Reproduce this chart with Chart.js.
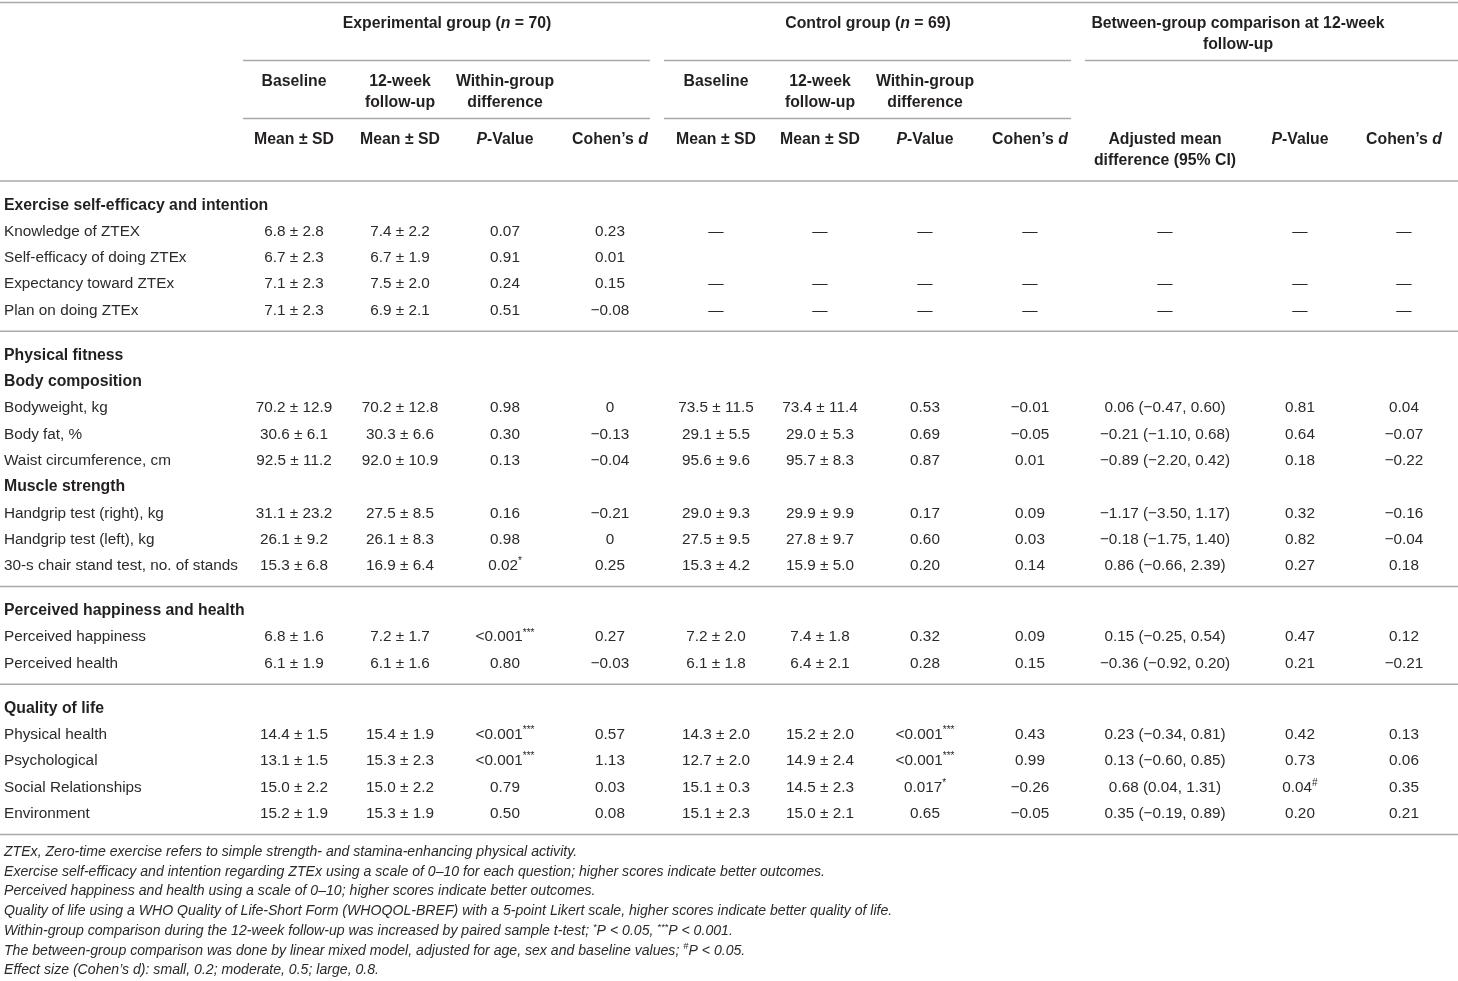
<!DOCTYPE html>
<html>
<head>
<meta charset="utf-8">
<script src="https://cdn.jsdelivr.net/npm/chart.js@4.4.1/dist/chart.umd.min.js"></script>
<style>
html, body { margin: 0; padding: 0; background: #fff; }
#wrap { width: 1458px; height: 981px; position: relative; }
</style>
</head>
<body>
<div id="wrap"><canvas id="tableChart"></canvas></div>
<script>
// markup: _x_ = italic, ^x^ = superscript, | = line break
const D = '—';

const groupHeaders = ['Experimental group (_n_ = 70)', 'Control group (_n_ = 69)', 'Between-group comparison at 12-week|follow-up'];
const subHeaders = ['Baseline', '12-week|follow-up', 'Within-group|difference', '', 'Baseline', '12-week|follow-up', 'Within-group|difference', '', '', '', ''];
const statHeaders = ['Mean ± SD', 'Mean ± SD', '_P_-Value', 'Cohen’s _d_', 'Mean ± SD', 'Mean ± SD', '_P_-Value', 'Cohen’s _d_', 'Adjusted mean|difference (95% CI)', '_P_-Value', 'Cohen’s _d_'];

const rowLabels = [
    'Exercise self-efficacy and intention', 'Knowledge of ZTEX', 'Self-efficacy of doing ZTEx', 'Expectancy toward ZTEx', 'Plan on doing ZTEx',
    'Physical fitness', 'Body composition', 'Bodyweight, kg', 'Body fat, %', 'Waist circumference, cm',
    'Muscle strength', 'Handgrip test (right), kg', 'Handgrip test (left), kg', '30-s chair stand test, no. of stands',
    'Perceived happiness and health', 'Perceived happiness', 'Perceived health',
    'Quality of life', 'Physical health', 'Psychological', 'Social Relationships', 'Environment'
];
const headerRows = [0, 5, 6, 10, 14, 17];
const sectionEnds = [4, 13, 16];

const expBaseline = ['', '6.8 ± 2.8', '6.7 ± 2.3', '7.1 ± 2.3', '7.1 ± 2.3', '', '', '70.2 ± 12.9', '30.6 ± 6.1', '92.5 ± 11.2', '', '31.1 ± 23.2', '26.1 ± 9.2', '15.3 ± 6.8', '', '6.8 ± 1.6', '6.1 ± 1.9', '', '14.4 ± 1.5', '13.1 ± 1.5', '15.0 ± 2.2', '15.2 ± 1.9'];
const expFollowUp = ['', '7.4 ± 2.2', '6.7 ± 1.9', '7.5 ± 2.0', '6.9 ± 2.1', '', '', '70.2 ± 12.8', '30.3 ± 6.6', '92.0 ± 10.9', '', '27.5 ± 8.5', '26.1 ± 8.3', '16.9 ± 6.4', '', '7.2 ± 1.7', '6.1 ± 1.6', '', '15.4 ± 1.9', '15.3 ± 2.3', '15.0 ± 2.2', '15.3 ± 1.9'];
const expP = ['', '0.07', '0.91', '0.24', '0.51', '', '', '0.98', '0.30', '0.13', '', '0.16', '0.98', '0.02^*^', '', '<0.001^***^', '0.80', '', '<0.001^***^', '<0.001^***^', '0.79', '0.50'];
const expD = ['', '0.23', '0.01', '0.15', '−0.08', '', '', '0', '−0.13', '−0.04', '', '−0.21', '0', '0.25', '', '0.27', '−0.03', '', '0.57', '1.13', '0.03', '0.08'];

const ctrlBaseline = ['', D, '', D, D, '', '', '73.5 ± 11.5', '29.1 ± 5.5', '95.6 ± 9.6', '', '29.0 ± 9.3', '27.5 ± 9.5', '15.3 ± 4.2', '', '7.2 ± 2.0', '6.1 ± 1.8', '', '14.3 ± 2.0', '12.7 ± 2.0', '15.1 ± 0.3', '15.1 ± 2.3'];
const ctrlFollowUp = ['', D, '', D, D, '', '', '73.4 ± 11.4', '29.0 ± 5.3', '95.7 ± 8.3', '', '29.9 ± 9.9', '27.8 ± 9.7', '15.9 ± 5.0', '', '7.4 ± 1.8', '6.4 ± 2.1', '', '15.2 ± 2.0', '14.9 ± 2.4', '14.5 ± 2.3', '15.0 ± 2.1'];
const ctrlP = ['', D, '', D, D, '', '', '0.53', '0.69', '0.87', '', '0.17', '0.60', '0.20', '', '0.32', '0.28', '', '<0.001^***^', '<0.001^***^', '0.017^*^', '0.65'];
const ctrlD = ['', D, '', D, D, '', '', '−0.01', '−0.05', '0.01', '', '0.09', '0.03', '0.14', '', '0.09', '0.15', '', '0.43', '0.99', '−0.26', '−0.05'];

const adjDiff = ['', D, '', D, D, '', '', '0.06 (−0.47, 0.60)', '−0.21 (−1.10, 0.68)', '−0.89 (−2.20, 0.42)', '', '−1.17 (−3.50, 1.17)', '−0.18 (−1.75, 1.40)', '0.86 (−0.66, 2.39)', '', '0.15 (−0.25, 0.54)', '−0.36 (−0.92, 0.20)', '', '0.23 (−0.34, 0.81)', '0.13 (−0.60, 0.85)', '0.68 (0.04, 1.31)', '0.35 (−0.19, 0.89)'];
const betweenP = ['', D, '', D, D, '', '', '0.81', '0.64', '0.18', '', '0.32', '0.82', '0.27', '', '0.47', '0.21', '', '0.42', '0.73', '0.04^#^', '0.20'];
const betweenD = ['', D, '', D, D, '', '', '0.04', '−0.07', '−0.22', '', '−0.16', '−0.04', '0.18', '', '0.12', '−0.21', '', '0.13', '0.06', '0.35', '0.21'];

const footnotes = [
    'ZTEx, Zero-time exercise refers to simple strength- and stamina-enhancing physical activity.',
    'Exercise self-efficacy and intention regarding ZTEx using a scale of 0–10 for each question; higher scores indicate better outcomes.',
    'Perceived happiness and health using a scale of 0–10; higher scores indicate better outcomes.',
    'Quality of life using a WHO Quality of Life-Short Form (WHOQOL-BREF) with a 5-point Likert scale, higher scores indicate better quality of life.',
    'Within-group comparison during the 12-week follow-up was increased by paired sample t-test; ^*^P < 0.05, ^***^P < 0.001.',
    'The between-group comparison was done by linear mixed model, adjusted for age, sex and baseline values; ^#^P < 0.05.',
    'Effect size (Cohen’s d): small, 0.2; moderate, 0.5; large, 0.8.'
];

const columns = [expBaseline, expFollowUp, expP, expD, ctrlBaseline, ctrlFollowUp, ctrlP, ctrlD, adjDiff, betweenP, betweenD];

// layout (scale units = px of the 1458 x 981 page)
const labelX = 4;
const colX = [294, 400, 505, 610, 716, 820, 925, 1030, 1165, 1300, 1404];
const groupX = [447, 868, 1238];
const firstRowY = 204, rowStep = 26.3, sectionGap = 18.7, lineStep = 21;
const footY = 851, footStep = 19.7;

const FAMILY = '"Liberation Sans", Arial, sans-serif';
const headFont = { size: 15.8, weight: 'bold', italic: false, family: FAMILY, color: '#231f20' };
const bodyFont = { size: 15.3, weight: 'normal', italic: false, family: FAMILY, color: '#2a2a2a' };
const footFont = { size: 14.1, weight: 'normal', italic: true, family: FAMILY, color: '#2a2a2a' };
const RULE = '#a9a9a9';

function rowY(i) {
    const gaps = sectionEnds.filter(e => e < i).length;
    return firstRowY + rowStep * i + sectionGap * gaps;
}

function parseRich(str) {
    const out = [];
    let it = false, sup = false, buf = '';
    for (const ch of str) {
        if (ch === '_' || ch === '^') {
            if (buf) out.push({ t: buf, it, sup });
            buf = '';
            if (ch === '_') it = !it; else sup = !sup;
        } else {
            buf += ch;
        }
    }
    if (buf) out.push({ t: buf, it, sup });
    return out;
}

function fontFor(base, seg) {
    const size = seg.sup ? base.size * 0.66 : base.size;
    const italic = base.italic !== seg.it;
    return (italic ? 'italic ' : '') + base.weight + ' ' + size + 'px ' + base.family;
}

function drawRich(ctx, str, x, yc, align, base) {
    const segs = parseRich(str);
    let w = 0;
    segs.forEach(s => { ctx.font = fontFor(base, s); s.w = ctx.measureText(s.t).width; w += s.w; });
    let cx = align === 'center' ? x - w / 2 : x;
    const base_y = yc + base.size * 0.36;
    ctx.fillStyle = base.color;
    ctx.textAlign = 'left';
    ctx.textBaseline = 'alphabetic';
    segs.forEach(s => {
        ctx.font = fontFor(base, s);
        ctx.fillText(s.t, cx, base_y - (s.sup ? base.size * 0.38 : 0));
        cx += s.w;
    });
}

function drawLines(ctx, str, x, yc, align, base) {
    str.split('|').forEach((part, k) => drawRich(ctx, part, x, yc + k * lineStep, align, base));
}

const tablePlugin = {
    id: 'tablePlugin',
    afterDraw(chart) {
        const ctx = chart.ctx;
        const sx = chart.scales.x, sy = chart.scales.y;
        const X = v => sx.getPixelForValue(v);
        const Y = v => sy.getPixelForValue(v);
        ctx.save();

        // rules
        ctx.strokeStyle = RULE;
        ctx.lineWidth = 1.5;
        const rule = (x0, x1, y) => { ctx.beginPath(); ctx.moveTo(X(x0), Y(y)); ctx.lineTo(X(x1), Y(y)); ctx.stroke(); };
        rule(0, 1458, 2.5);
        rule(243, 650, 60.5); rule(664, 1071, 60.5); rule(1085, 1458, 60.5);
        rule(243, 650, 118.5); rule(664, 1071, 118.5);
        rule(0, 1458, 181);
        sectionEnds.forEach(e => rule(0, 1458, rowY(e) + 22));
        rule(0, 1458, rowY(rowLabels.length - 1) + 22);

        // header
        groupHeaders.forEach((h, g) => drawLines(ctx, h, X(groupX[g]), Y(22), 'center', headFont));
        subHeaders.forEach((h, c) => { if (h) drawLines(ctx, h, X(colX[c]), Y(80), 'center', headFont); });
        statHeaders.forEach((h, c) => drawLines(ctx, h, X(colX[c]), Y(138), 'center', headFont));

        // body
        rowLabels.forEach((label, i) => {
            const y = Y(rowY(i));
            const isHead = headerRows.includes(i);
            drawRich(ctx, label, X(labelX), y, 'left', isHead ? headFont : bodyFont);
            columns.forEach((col, c) => { if (col[i]) drawRich(ctx, col[i], X(colX[c]), y, 'center', bodyFont); });
        });

        // footnotes
        footnotes.forEach((f, k) => drawRich(ctx, f, X(labelX), Y(footY + k * footStep), 'left', footFont));

        ctx.restore();
    }
};

const configTable = {
    type: 'scatter',
    data: { datasets: [{ data: [], pointRadius: 0 }] },
    options: {
        responsive: true,
        maintainAspectRatio: false,
        animation: false,
        layout: { padding: 0 },
        plugins: { legend: { display: false }, tooltip: { enabled: false } },
        scales: {
            x: { type: 'linear', min: 0, max: 1458, display: false },
            y: { type: 'linear', min: 0, max: 981, reverse: true, display: false }
        }
    },
    plugins: [tablePlugin]
};

const tableChart = new Chart(document.getElementById('tableChart'), configTable);
</script>
</body>
</html>
